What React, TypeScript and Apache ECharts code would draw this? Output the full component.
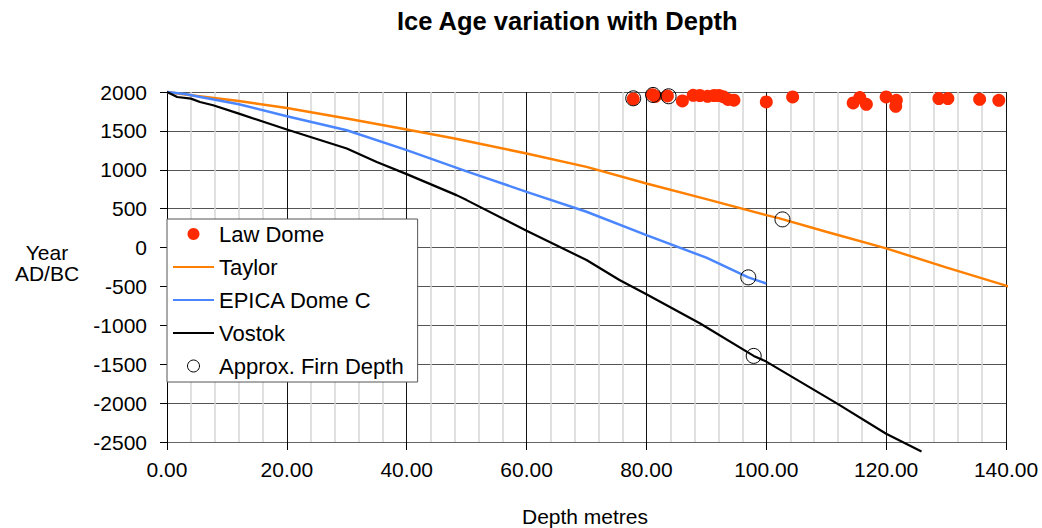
import React, { useEffect, useRef } from "react";
import * as echarts from "echarts";

const FONT = "'Liberation Sans', Arial, sans-serif";

const xTicks = [0, 20, 40, 60, 80, 100, 120, 140];
const yTicks = [-2500, -2000, -1500, -1000, -500, 0, 500, 1000, 1500, 2000];

const lawDomeDepth = [77.8, 81.0, 81.5, 83.5, 86.0, 87.8, 88.9, 90.2, 91.3, 92.1, 92.8, 93.6, 94.6, 100.0, 104.4, 114.5, 115.6, 116.7, 120.0, 121.7, 121.6, 128.8, 130.3, 135.6, 138.8];
const lawDomeYear = [1910, 1965, 1945, 1950, 1885, 1958, 1955, 1945, 1955, 1955, 1940, 1905, 1895, 1872, 1936, 1859, 1928, 1842, 1936, 1893, 1816, 1915, 1915, 1906, 1893];

const taylorDepth = [0, 4, 12, 20, 30, 40, 48, 60, 70, 80, 90, 100, 102.2, 110, 120, 130, 140, 141.7];
const taylorYear = [2000, 1958, 1884, 1795, 1658, 1517, 1402, 1209, 1037, 824, 623, 417, 375, 203, -10, -255, -490, -537];

const epicaDepth = [0, 3, 6, 12, 20, 30, 40, 50, 60, 70, 80, 90, 97, 100];
const epicaYear = [2000, 1975, 1930, 1842, 1688, 1508, 1252, 980, 716, 460, 160, -130, -383, -462];

const vostokDepth = [0, 1.7, 4, 5.5, 7.7, 12, 20, 30, 35, 40, 48.3, 50, 60, 70, 75.5, 80, 88.9, 97.9, 100, 111.7, 120, 125.9];
const vostokYear = [2000, 1936, 1915, 1872, 1830, 1722, 1517, 1273, 1100, 944, 674, 610, 216, -160, -417, -600, -973, -1393, -1466, -2000, -2394, -2621];

const firnDepth = [77.8, 81.1, 83.7, 102.7, 97.0, 97.9];
const firnYear = [1919, 1962, 1945, 362, -383, -1393];

const pairs = (xs: number[], ys: number[]) => xs.map((x, i) => [x, ys[i]]);

export default function App() {
  const ref = useRef<HTMLDivElement>(null);
  useEffect(() => {
    if (!ref.current) return;
    const chart = echarts.init(ref.current, undefined, { renderer: "svg" });
    chart.setOption({
      animation: false,
      backgroundColor: "#fff",
      title: {
        text: "Ice Age variation with Depth",
        left: 397,
        top: 8,
        padding: 0,
        textStyle: { fontSize: 25.5, fontWeight: "bold", color: "#000", fontFamily: FONT },
      },
      grid: { left: 167, top: 92, width: 839, height: 350, containLabel: false },
      xAxis: {
        type: "value",
        min: xTicks[0],
        max: xTicks[xTicks.length - 1],
        interval: 20,
        axisLine: { show: true, onZero: false, lineStyle: { color: "#666", width: 1 } },
        axisTick: { show: true, inside: false, length: 8, lineStyle: { color: "#000" } },
        axisLabel: { formatter: (v: number) => v.toFixed(2), fontSize: 21, color: "#000", margin: 17, fontFamily: FONT },
        splitLine: { show: true, lineStyle: { color: "#111", width: 1 } },
        minorTick: { show: false, splitNumber: 5 },
        minorSplitLine: { show: true, lineStyle: { color: "#d6d6d6", width: 1.5 } },
      },
      yAxis: {
        type: "value",
        min: yTicks[0],
        max: yTicks[yTicks.length - 1],
        interval: 500,
        axisLine: { show: true, onZero: false, lineStyle: { color: "#000", width: 1 } },
        axisTick: { show: true, inside: false, length: 7, lineStyle: { color: "#000" } },
        axisLabel: { formatter: (v: number) => String(v), fontSize: 21, color: "#000", margin: 20, fontFamily: FONT },
        splitLine: { show: true, lineStyle: { color: "#555", width: 1 } },
      },
      legend: {
        orient: "vertical",
        left: 167,
        top: 219,
        backgroundColor: "#fff",
        borderColor: "#555",
        borderWidth: 1,
        borderRadius: 0,
        padding: [4, 14, 5, 5],
        itemWidth: 41,
        itemHeight: 12,
        itemGap: 11,
        textStyle: { fontSize: 22, color: "#000", fontFamily: FONT },
        data: [
          { name: "Law Dome", icon: "circle" },
          { name: "Taylor", itemStyle: { opacity: 0 } },
          { name: "EPICA Dome C", itemStyle: { opacity: 0 } },
          { name: "Vostok", itemStyle: { opacity: 0 } },
          { name: "Approx. Firn Depth", icon: "circle", itemStyle: { color: "#fff", borderColor: "#000", borderWidth: 1 } },
        ],
      },
      graphic: [
        {
          type: "text",
          x: 47,
          y: 263,
          style: {
            text: "Year\nAD/BC",
            fontSize: 21,
            fontFamily: FONT,
            fill: "#000",
            textAlign: "center",
            textVerticalAlign: "middle",
            lineHeight: 21,
          },
        },
        {
          type: "text",
          x: 585,
          y: 516,
          style: {
            text: "Depth metres",
            fontSize: 21,
            fontFamily: FONT,
            fill: "#000",
            textAlign: "center",
            textVerticalAlign: "middle",
          },
        },
      ],
      series: [
        {
          name: "Law Dome",
          type: "scatter",
          data: pairs(lawDomeDepth, lawDomeYear),
          symbol: "circle",
          symbolSize: 13,
          itemStyle: { color: "#ff2a00", opacity: 1 },
          z: 3,
        },
        {
          name: "Taylor",
          type: "line",
          data: pairs(taylorDepth, taylorYear),
          showSymbol: false,
          symbol: "none",
          clip: false,
          lineStyle: { color: "#ff8000", width: 2.5 },
          itemStyle: { color: "#ff8000" },
          z: 4,
        },
        {
          name: "EPICA Dome C",
          type: "line",
          data: pairs(epicaDepth, epicaYear),
          showSymbol: false,
          symbol: "none",
          clip: false,
          lineStyle: { color: "#4a86ff", width: 2.5 },
          itemStyle: { color: "#4a86ff" },
          z: 4,
        },
        {
          name: "Vostok",
          type: "line",
          data: pairs(vostokDepth, vostokYear),
          showSymbol: false,
          symbol: "none",
          clip: false,
          lineStyle: { color: "#000", width: 2.2 },
          itemStyle: { color: "#000" },
          z: 4,
        },
        {
          name: "Approx. Firn Depth",
          type: "scatter",
          data: pairs(firnDepth, firnYear),
          symbol: "circle",
          symbolSize: 15,
          itemStyle: { color: "rgba(0,0,0,0)", borderColor: "#000", borderWidth: 1, opacity: 1 },
          z: 5,
        },
      ],
    });
    return () => chart.dispose();
  }, []);
  return <div ref={ref} style={{ position: "absolute", left: 0, top: 0, width: 1042, height: 528 }} />;
}
